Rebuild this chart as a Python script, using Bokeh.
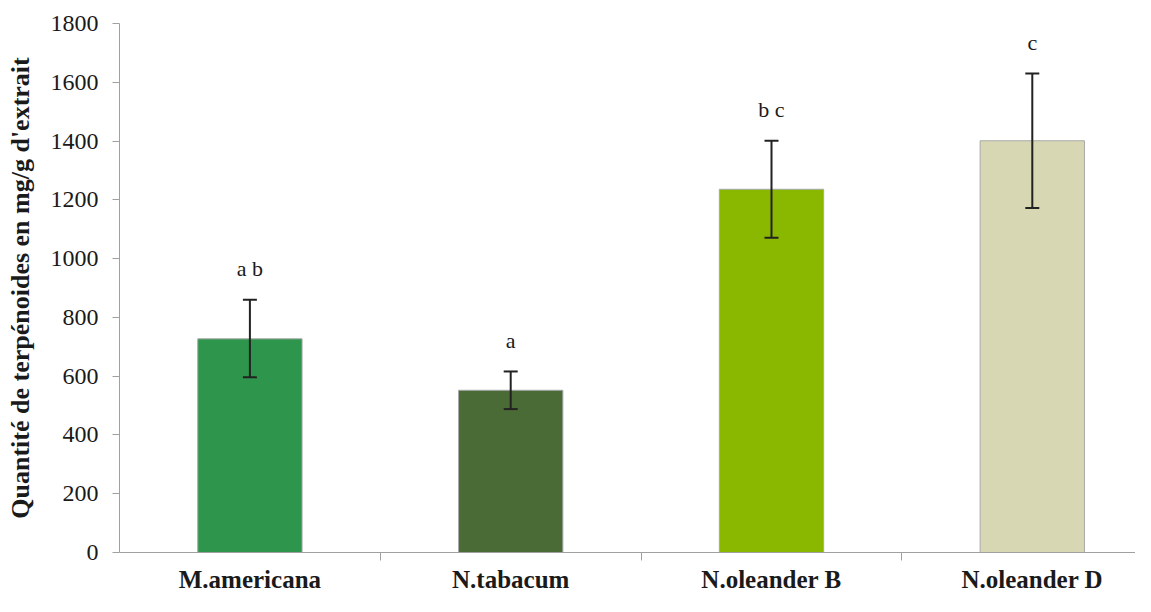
import numpy as np
from bokeh.plotting import figure
from bokeh.models import ColumnDataSource, Range1d, FixedTicker, Whisker, TeeHead, LinearAxis
from bokeh.core.properties import value
from bokeh.embed import file_html
from bokeh.resources import INLINE

categories = ["M.americana", "N.tabacum", "N.oleander B", "N.oleander D"]
means = [727, 552, 1236, 1401]
err_upper = [860, 616, 1401, 1630]
err_lower = [596, 488, 1071, 1172]
letters = ["a b", "a", "b c", "c"]
colors = ["#2e954c", "#4a6b35", "#8ab800", "#d7d8b3"]

x = np.arange(len(categories)) + 0.5
src = ColumnDataSource(dict(x=x, top=means, upper=err_upper, lower=err_lower,
                            letters=letters, color=colors))

SERIF = "Liberation Serif"
W, H = 1135, 596
LEFT, TOP = 119, 23
p = figure(width=W, height=H, output_backend="svg", toolbar_location=None,
           x_range=Range1d(0, (W - LEFT) / 260.8), y_range=Range1d(0, 1800),
           x_axis_location=None, y_axis_location=None,
           min_border_left=LEFT, min_border_top=TOP, min_border_right=0, min_border_bottom=44)
p.outline_line_color = None
p.xgrid.visible = False
p.ygrid.visible = False

p.vbar(x="x", top="top", bottom=0, width=0.4, fill_color="color",
       line_color="#a8a8a8", line_width=1, source=src)

w = Whisker(base="x", upper="upper", lower="lower", source=src,
            line_color="#222222", line_width=2,
            upper_head=TeeHead(size=14, line_color="#222222", line_width=2),
            lower_head=TeeHead(size=14, line_color="#222222", line_width=2))
w.level = "overlay"
p.add_layout(w)

p.text(x="x", y="upper", text="letters", source=src, text_align="center",
       text_baseline="middle", y_offset=-31, text_font=value(SERIF),
       text_font_size="22px", text_color="#1a1a1a")

yaxis = LinearAxis(ticker=FixedTicker(ticks=list(range(0, 1801, 200))))
yaxis.axis_line_color = "#a0a0a0"
yaxis.major_tick_line_color = "#a0a0a0"
yaxis.major_tick_out = 7
yaxis.major_tick_in = 0
yaxis.minor_tick_line_color = None
yaxis.major_label_standoff = 14
yaxis.major_label_text_font = SERIF
yaxis.major_label_text_font_size = "24px"
yaxis.major_label_text_color = "#1a1a1a"
yaxis.axis_label = "Quantité de terpénoides en mg/g d'extrait"
yaxis.axis_label_text_font = SERIF
yaxis.axis_label_text_font_style = "bold"
yaxis.axis_label_text_font_size = "26px"
yaxis.axis_label_text_color = "#1a1a1a"
yaxis.axis_label_standoff = 13
p.add_layout(yaxis, "left")

xaxis = LinearAxis(ticker=FixedTicker(ticks=list(x), minor_ticks=[1.0, 2.0, 3.0]))
xaxis.major_label_overrides = {float(v): c for v, c in zip(x, categories)}
xaxis.axis_line_color = "#a0a0a0"
xaxis.major_tick_line_color = None
xaxis.major_tick_out = 0
xaxis.major_tick_in = 0
xaxis.minor_tick_line_color = "#a0a0a0"
xaxis.minor_tick_out = 8
xaxis.minor_tick_in = 0
xaxis.major_label_standoff = 5
xaxis.major_label_text_font = SERIF
xaxis.major_label_text_font_style = "bold"
xaxis.major_label_text_font_size = "25px"
xaxis.major_label_text_color = "#1a1a1a"
p.add_layout(xaxis, "below")

open("out.html", "w").write(file_html(p, INLINE))
